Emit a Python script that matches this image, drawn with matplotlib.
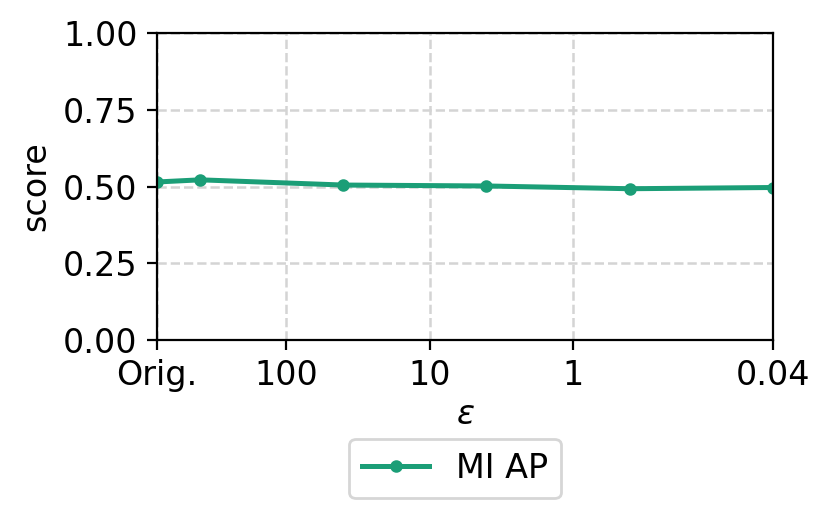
import matplotlib
matplotlib.use("Agg")
import matplotlib.pyplot as plt

plt.rcParams["font.size"] = 12

# epsilon values (Orig. placed at 800 on the log axis)
eps = [800, 400, 40, 4, 0.4, 0.04]
mi_ap = [0.515, 0.522, 0.505, 0.502, 0.493, 0.497]
tick_pos = [800, 100, 10, 1, 0.04]
tick_labels = ["Orig.", "100", "10", "1", "0.04"]

fig = plt.figure(figsize=(4.155, 2.595), dpi=200)
ax = fig.add_axes([0.189, 0.345, 0.741, 0.591])

ax.plot(eps, mi_ap, marker="o", markersize=3.5, linewidth=1.8, color="#1b9e77", label="MI AP")
ax.set_xscale("log")
ax.set_xlim(800, 0.04)
ax.set_ylim(0, 1)
ax.set_xticks(tick_pos)
ax.set_xticklabels(tick_labels)
ax.minorticks_off()
ax.set_yticks([0, 0.25, 0.5, 0.75, 1.0])
ax.grid(True, linestyle="--", color="#d4d4d4", linewidth=0.9)
ax.set_xlabel(r"$\epsilon$", labelpad=2)
ax.set_ylabel("score")
ax.legend(loc="upper center", bbox_to_anchor=(0.484, -0.267))

fig.savefig("out.png", dpi=200)
